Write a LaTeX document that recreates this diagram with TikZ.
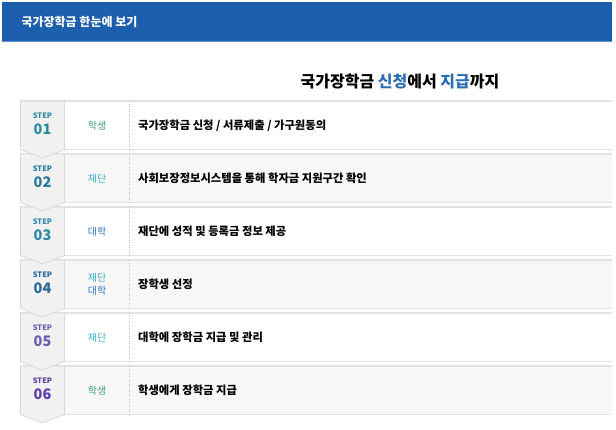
\documentclass[tikz,border=0pt]{standalone}
\usepackage{fontspec}
\setmainfont{Noto Sans CJK KR}
\usepackage{xcolor}
\definecolor{hdrblue}{HTML}{1C5FAC}
\definecolor{hdrline}{HTML}{5B93CF}
\definecolor{titleblue}{HTML}{2D6DB6}
\definecolor{rowline}{HTML}{E2E2E2}
\definecolor{rowgray}{HTML}{F7F7F7}
\definecolor{stepfill}{HTML}{F1F1F1}
\definecolor{stepline}{HTML}{D9D9D9}
\definecolor{stepA}{HTML}{2E8B9E}
\definecolor{stepB}{HTML}{2A7A9C}
\definecolor{stepC}{HTML}{2A89A5}
\definecolor{stepD}{HTML}{2B6796}
\definecolor{stepE}{HTML}{6A5CB0}
\definecolor{stepF}{HTML}{5B3BA6}
\definecolor{roleS}{HTML}{3FA173}
\definecolor{roleF}{HTML}{3AAFC6}
\definecolor{roleU}{HTML}{3A78B8}
\tikzset{
  >=latex,
}
\tikzstyle{rowedge}=[rowline,line width=1.5pt]
\tikzstyle{stepbox}=[fill=stepfill,draw=stepline,line width=.8pt]
\tikzstyle{steptag}=[font=\fontsize{7.5}{8}\selectfont\bfseries,inner sep=0pt]
\tikzstyle{stepnum}=[font=\fontsize{14.5}{15}\selectfont\bfseries,inner sep=0pt]
\tikzstyle{role}=[font=\fontsize{10}{13}\selectfont,align=center,inner sep=0pt]
\tikzstyle{desc}=[font=\fontsize{11.3}{12}\selectfont\bfseries,anchor=west,inner sep=0pt]

\begin{document}
\begin{tikzpicture}[x=1pt,y=-1pt]
  \useasboundingbox (0,0) rectangle (616,429);
  % header bar
  \fill[hdrblue] (2,2) rectangle (612,41);
  \draw[hdrline,line width=1.5pt] (2,41.5)--(612,41.5);
  \node[anchor=west,text=white,font=\fontsize{12}{14}\selectfont\bfseries] (hdr) at (18,21.5) {국가장학금 한눈에 보기};
  \node[font=\fontsize{16}{18}\selectfont\bfseries] (title) at (400,81)
    {국가장학금 \textcolor{titleblue}{신청}에서 \textcolor{titleblue}{지급}까지};
  % rows
  \foreach \i/\bg/\who/\what in {
      1/white/{\textcolor{roleS}{학생}}/{국가장학금 신청 / 서류제출 / 가구원동의},
      2/rowgray/{\textcolor{roleF}{재단}}/{사회보장정보시스템을 통해 학자금 지원구간 확인},
      3/white/{\textcolor{roleU}{대학}}/{재단에 성적 및 등록금 정보 제공},
      4/rowgray/{\textcolor{roleF}{재단}\\\textcolor{roleU}{대학}}/{장학생 선정},
      5/white/{\textcolor{roleF}{재단}}/{대학에 장학금 지급 및 관리},
      6/rowgray/{\textcolor{roleS}{학생}}/{학생에게 장학금 지급}}{
    \pgfmathsetmacro\top{101+53*(\i-1)}
    \pgfmathsetmacro\bot{\top+48.5}
    \fill[\bg] (20,\top) rectangle (612,\bot);
    \draw[rowedge] (20,\top)--(612,\top);
    \draw[rowedge] (20,\bot)--(612,\bot);
    \draw[black!25,dash pattern=on 1pt off 1.5pt,line width=.5pt] (129,\top)--(129,\bot);
    \node[role] (role\i) at (97,\top+24.5) {\who};
    \node[desc] (desc\i) at (138,\top+24.5) {\what};
  }
  % step chevrons, bottom up so each point lies over the next box
  \foreach \i/\col in {6/stepF,5/stepE,4/stepD,3/stepC,2/stepB,1/stepA}{
    \pgfmathsetmacro\top{101+53*(\i-1)}
    \pgfmathsetmacro\bot{\top+48.5}
    \filldraw[stepbox] (20.5,\top)--(64.5,\top)--(64.5,\bot)--(42.5,\bot+8.5)--(20.5,\bot)--cycle;
    \node[steptag,text=\col] (tag\i) at (42.5,\top+15) {STEP};
    \node[stepnum,text=\col] (step\i) at (42.5,\top+28.5) {0\i};
  }
\end{tikzpicture}
\end{document}
